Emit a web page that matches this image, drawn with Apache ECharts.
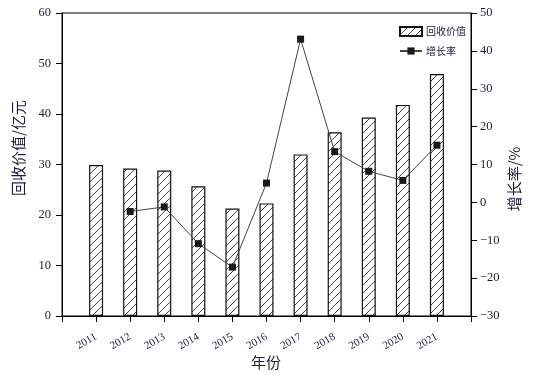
<!DOCTYPE html>
<html>
<head>
<meta charset="utf-8">
<script src="https://cdn.jsdelivr.net/npm/echarts@6/dist/echarts.min.js"></script>
<style>
html,body{margin:0;padding:0;background:#fff;}
#main{width:533px;height:375px;}
</style>
</head>
<body>
<div id="main"></div>
<script>
// Data
var years = [2011, 2012, 2013, 2014, 2015, 2016, 2017, 2018, 2019, 2020, 2021];
var recoveryValue = [29.9, 29.2, 28.8, 25.7, 21.3, 22.3, 32.0, 36.4, 39.3, 41.8, 47.9];
var growthYears = [2012, 2013, 2014, 2015, 2016, 2017, 2018, 2019, 2020, 2021];
var growthRate = [-2.4, -1.2, -10.9, -17.1, 5.1, 43.1, 13.4, 8.2, 5.8, 15.1];
var seriesNames = ['回收价值', '增长率'];
var axisNames = ['年份', '回收价值/亿元', '增长率/%'];

// hatch pattern
var tile = document.createElement('canvas');
tile.width = 8; tile.height = 8;
var ctx = tile.getContext('2d');
ctx.fillStyle = '#fff';
ctx.fillRect(0, 0, 8, 8);
ctx.strokeStyle = '#333';
ctx.lineWidth = 0.9;
ctx.beginPath();
ctx.moveTo(0, 8); ctx.lineTo(8, 0);
ctx.moveTo(-1, 1); ctx.lineTo(1, -1);
ctx.moveTo(7, 9); ctx.lineTo(9, 7);
ctx.stroke();
var hatch = {image: tile, repeat: 'repeat'};

var textColor = '#1c1c3a';
var serif = '"Liberation Serif", "DejaVu Serif", serif';
var cjk = '"Noto Sans CJK SC", sans-serif';

var barData = years.map(function (y, i) { return [y, recoveryValue[i]]; });
var lineData = growthYears.map(function (y, i) { return [y, growthRate[i]]; });

var chart = echarts.init(document.getElementById('main'));
chart.setOption({
  animation: false,
  backgroundColor: '#fff',
  grid: {left: 62, right: 62, top: 13, bottom: 59, show: true, borderColor: '#000', borderWidth: 1},
  legend: {
    orient: 'vertical',
    left: 394, top: 21,
    itemWidth: 22, itemHeight: 9, itemGap: 9,
    textStyle: {fontFamily: cjk, fontSize: 10, color: textColor, padding: [0, 0, 0, -1]},
    data: [{name: seriesNames[0], icon: 'rect'}, {name: seriesNames[1]}]
  },
  xAxis: {
    type: 'value', min: 2010, max: 2022, interval: 1,
    splitLine: {show: false},
    axisLine: {lineStyle: {color: '#000', width: 1}},
    axisTick: {length: 6, lineStyle: {color: '#000'}},
    axisLabel: {
      rotate: 30, margin: 20, fontFamily: serif, fontSize: 11, color: textColor,
      formatter: function (v) { return (v === 2010 || v === 2022) ? '' : String(v); }
    }
  },
  yAxis: [{
    type: 'value', min: 0, max: 60, interval: 10,
    splitLine: {show: false},
    axisLine: {show: true, lineStyle: {color: '#000', width: 1}},
    axisTick: {show: true, length: 6, lineStyle: {color: '#000'}},
    axisLabel: {margin: 11, fontFamily: serif, fontSize: 12.5, color: textColor}
  }, {
    type: 'value', min: -30, max: 50, interval: 10,
    splitLine: {show: false},
    axisLine: {show: true, lineStyle: {color: '#000', width: 1}},
    axisTick: {show: true, length: 6, lineStyle: {color: '#000'}},
    axisLabel: {margin: 9, fontFamily: serif, fontSize: 12.5, color: textColor,
      formatter: function (v) { return String(v).replace('-', '\u2212'); }}
  }],
  series: [{
    name: seriesNames[0],
    type: 'bar',
    yAxisIndex: 0,
    barWidth: 14,
    data: barData,
    itemStyle: {color: hatch, borderColor: '#111', borderWidth: 1.2}
  }, {
    name: seriesNames[1],
    type: 'line',
    yAxisIndex: 1,
    data: lineData,
    symbol: 'rect',
    symbolSize: 7,
    lineStyle: {color: '#444', width: 1},
    itemStyle: {color: '#1a1a1a'},
    z: 5
  }],
  graphic: [{
    type: 'text', x: 266, y: 362,
    style: {text: axisNames[0], font: '15px ' + cjk, fill: textColor, textAlign: 'center', textVerticalAlign: 'middle'}
  }, {
    type: 'text', x: 18, y: 148, rotation: Math.PI / 2,
    style: {text: axisNames[1], font: '15px ' + cjk, fill: textColor, textAlign: 'center', textVerticalAlign: 'middle'}
  }, {
    type: 'text', x: 514, y: 179, rotation: Math.PI / 2,
    style: {text: axisNames[2], font: '15px ' + cjk, fill: textColor, textAlign: 'center', textVerticalAlign: 'middle'}
  }]
});
</script>
</body>
</html>
